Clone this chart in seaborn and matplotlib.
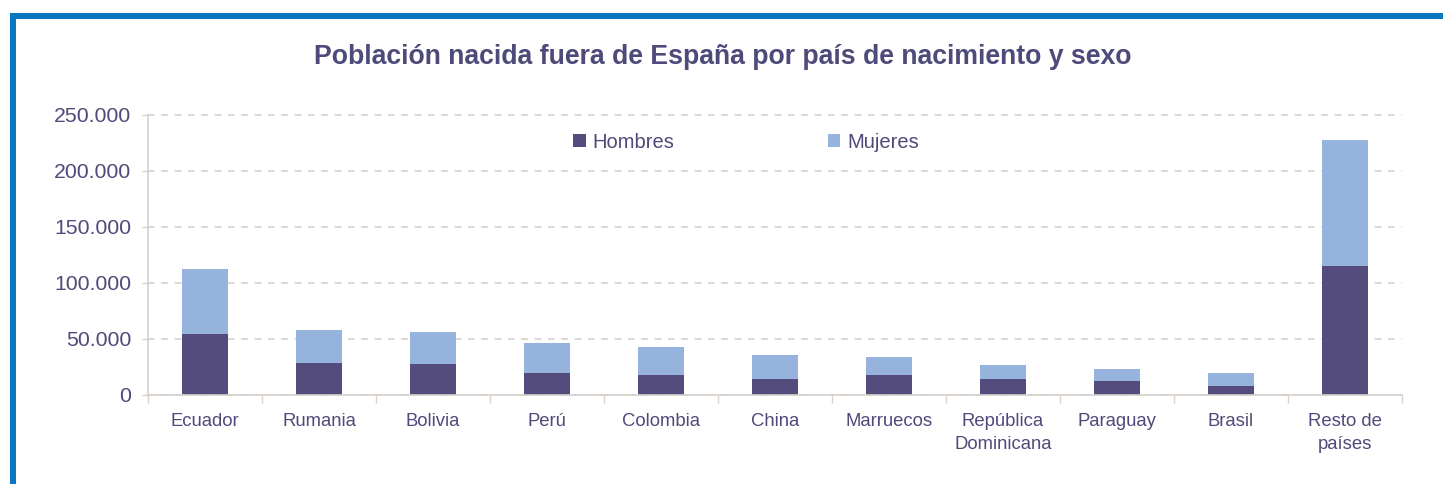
import matplotlib
matplotlib.use("Agg")
import matplotlib.pyplot as plt
import seaborn as sns
import pandas as pd
from matplotlib.ticker import FuncFormatter, FixedLocator
from matplotlib.patches import Rectangle, Patch

paises = ["Ecuador", "Rumania", "Bolivia", "Perú", "Colombia", "China", "Marruecos",
          "República\nDominicana", "Paraguay", "Brasil", "Resto de\npaíses"]
hombres = [54200, 28900, 27400, 20000, 18200, 14600, 18200, 14600, 12800, 7700, 114900]
mujeres = [58600, 28800, 28600, 26700, 25000, 21400, 16000, 12500, 10700, 12200, 112500]
yticks = [0, 50000, 100000, 150000, 200000, 250000]

HOM = "#534c7c"
MUJ = "#95b3dd"
TXT = "#4e4a7a"
AXC = "#d8d1cc"
FRAME = "#0a77c0"

plt.rcParams["font.family"] = ["Liberation Sans", "DejaVu Sans"]

df = pd.DataFrame({"pais": paises, "Hombres": hombres, "Mujeres": mujeres})
df["Total"] = df["Hombres"] + df["Mujeres"]

W, H = 1443, 484
fig = plt.figure(figsize=(W / 100, H / 100), dpi=100)
fig.patch.set_facecolor("white")

ax = fig.add_axes([148 / W, 1 - 395 / H, (1402 - 148) / W, 280 / H])
sns.barplot(data=df, x="pais", y="Total", color=MUJ, saturation=1, width=0.41, ax=ax)
sns.barplot(data=df, x="pais", y="Hombres", color=HOM, saturation=1, width=0.41, ax=ax)

ax.set_xlim(-0.5, len(paises) - 0.5)
ax.set_ylim(0, 250000)
ax.set_xlabel("")
ax.set_ylabel("")

for s in ["top", "right"]:
    ax.spines[s].set_visible(False)
for s in ["left", "bottom"]:
    ax.spines[s].set_color(AXC)
    ax.spines[s].set_linewidth(1.2)

ax.yaxis.set_major_locator(FixedLocator(yticks))
ax.yaxis.set_major_formatter(FuncFormatter(lambda v, p: f"{int(v):,}".replace(",", ".")))
ax.tick_params(axis="y", colors=AXC, labelcolor=TXT, labelsize=15.3, length=4, width=1, pad=8)
ax.grid(axis="y", color=AXC, linestyle=(0, (4, 4)), linewidth=1.2)
ax.set_axisbelow(True)
for gl in ax.get_ygridlines():
    gl.set_clip_on(False)

ax.set_xticks(range(len(paises)))
ax.set_xticklabels(paises, fontsize=13.3, color=TXT, linespacing=1.45)
ax.tick_params(axis="x", which="major", length=0, pad=13)
ax.set_xticks([i - 0.5 for i in range(len(paises) + 1)], minor=True)
ax.tick_params(axis="x", which="minor", length=6, width=1, colors=AXC)
for t in ax.get_xticklabels():
    t.set_va("top")

handles = [Patch(facecolor=HOM, label="Hombres"), Patch(facecolor=MUJ, label="Mujeres")]
leg = fig.legend(handles=handles, loc="center", bbox_to_anchor=(746 / W, 1 - 142 / H),
                 ncol=2, frameon=False, fontsize=14.5, handlelength=0.62, handleheight=0.62,
                 handletextpad=0.35, columnspacing=7.6)
for t in leg.get_texts():
    t.set_color(TXT)

fig.text(723 / W, 1 - 57 / H, "Población nacida fuera de España por país de nacimiento y sexo",
         ha="center", va="center", fontsize=19.2, fontweight="bold", color=TXT)

fig.patches.append(Rectangle((13 / W, -0.2), 1.2, 1.2 - 16 / H + 0.0, transform=fig.transFigure,
                             fill=False, edgecolor=FRAME, linewidth=6 * 0.72, zorder=10))

fig.savefig("out.png", dpi=100)
